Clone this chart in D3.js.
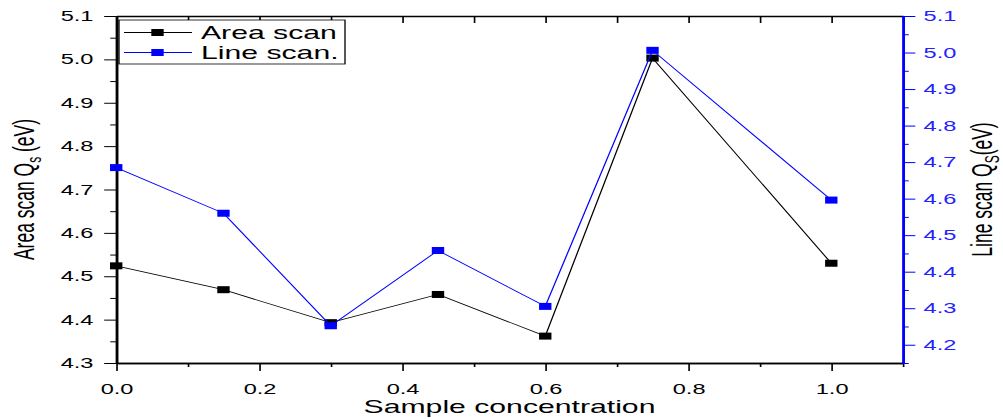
<!DOCTYPE html>
<html><head><meta charset="utf-8">
<script src="https://cdn.jsdelivr.net/npm/d3@7"></script>
<style>
html,body{margin:0;padding:0;background:#fff;}
svg{display:block;}
text{font-family:'Liberation Sans',Arial,sans-serif;}
</style></head>
<body>
<svg id="chart" width="1003" height="419" viewBox="0 0 608 419" preserveAspectRatio="none"></svg>
<script>
// ---- data ----
const concentrations = [0, 0.15, 0.3, 0.45, 0.6, 0.75, 1.0];
const areaScan = [4.524, 4.469, 4.393, 4.458, 4.362, 5.003, 4.530];
const lineScan = [4.685, 4.560, 4.252, 4.458, 4.305, 5.006, 4.596];
const seriesNames = ["Area scan", "Line scan."];
const xTicks = [0, 0.2, 0.4, 0.6, 0.8, 1.0];
const xMinorTicks = [0.1, 0.3, 0.5, 0.7, 0.9, 1.1];
const xAllTicks = [0, 0.1, 0.2, 0.3, 0.4, 0.5, 0.6, 0.7, 0.8, 0.9, 1.0, 1.1];
const leftTicks = [4.3, 4.4, 4.5, 4.6, 4.7, 4.8, 4.9, 5.0, 5.1];
const leftMinor = [4.35, 4.45, 4.55, 4.65, 4.75, 4.85, 4.95, 5.05];
const rightTicks = [4.2, 4.3, 4.4, 4.5, 4.6, 4.7, 4.8, 4.9, 5.0, 5.1];
const rightMinor = [4.15, 4.25, 4.35, 4.45, 4.55, 4.65, 4.75, 4.85, 4.95, 5.05];

const SX = 1003 / 608; // horizontal stretch of the viewBox
const L = 116.2 / SX, R = 902.8 / SX, T = 16, B = 363;
const BLUE = "#0000ff";

const svg = d3.select("#chart");
const x = d3.scaleLinear().domain([0, 1.1]).range([L, R]);
const yL = d3.scaleLinear().domain([4.3, 5.1]).range([B, T]);
const yR = d3.scaleLinear().domain([4.15, 5.1]).range([B, T]);
const fmt = d3.format(".1f");

function styleAxis(g, color, width) {
  g.select(".domain").attr("stroke", color).attr("stroke-width", width);
  g.selectAll(".tick line").attr("stroke", color).attr("stroke-width", 1);
  g.selectAll(".tick text").attr("fill", color).attr("font-size", 14.3)
    .attr("font-family", "'Liberation Sans',Arial,sans-serif");
}

// top axis (ticks inward, no labels)
const gTop = svg.append("g").attr("transform", `translate(0,${T})`)
  .call(d3.axisBottom(x).tickValues(xAllTicks).tickSize(7).tickSizeOuter(0).tickFormat(""));
styleAxis(gTop, "#000", 1.6);

// bottom axis minor
const gBm = svg.append("g").attr("transform", `translate(0,${B})`)
  .call(d3.axisBottom(x).tickValues(xMinorTicks).tickSize(4).tickSizeOuter(0).tickFormat(""));
styleAxis(gBm, "#000", 1.7);
const gB = svg.append("g").attr("transform", `translate(0,${B})`)
  .call(d3.axisBottom(x).tickValues(xTicks).tickSize(8).tickPadding(12.5).tickSizeOuter(0).tickFormat(fmt));
styleAxis(gB, "#000", 1.7);

// left axis
const gLm = svg.append("g").attr("transform", `translate(${L},0)`)
  .call(d3.axisLeft(yL).tickValues(leftMinor).tickSize(3.6).tickSizeOuter(0).tickFormat(""));
styleAxis(gLm, "#000", 1.5);
const gL = svg.append("g").attr("transform", `translate(${L},0)`)
  .call(d3.axisLeft(yL).tickValues(leftTicks).tickSize(7.3).tickPadding(6.5).tickSizeOuter(0).tickFormat(fmt));
styleAxis(gL, "#000", 1.5);

// right axis (blue)
const gRm = svg.append("g").attr("transform", `translate(${R},0)`)
  .call(d3.axisRight(yR).tickValues(rightMinor).tickSize(3.6).tickSizeOuter(0).tickFormat(""));
styleAxis(gRm, BLUE, 1.5);
const gR = svg.append("g").attr("transform", `translate(${R},0)`)
  .call(d3.axisRight(yR).tickValues(rightTicks).tickSize(7.6).tickPadding(5).tickSizeOuter(0).tickFormat(fmt));
styleAxis(gR, BLUE, 1.5);
gR.selectAll(".tick text").attr("fill", "#2222ff");

// series
const MW = 7.5, MH = 7;
function drawSeries(vals, scale, color, lw) {
  const pts = concentrations.map((c, i) => [x(c), scale(vals[i])]);
  svg.append("path").attr("d", d3.line()(pts)).attr("fill", "none")
    .attr("stroke", color).attr("stroke-width", lw);
  svg.append("g").selectAll("rect").data(pts).join("rect")
    .attr("x", d => d[0] - MW / 2).attr("y", d => d[1] - MH / 2)
    .attr("width", MW).attr("height", MH).attr("fill", color);
}
drawSeries(areaScan, yL, "#000", 0.8);
drawSeries(lineScan, yR, BLUE, 0.8);

// legend
const lg = svg.append("g");
lg.append("rect").attr("x", 119 / SX).attr("y", 20).attr("width", (345 - 119) / SX).attr("height", 44)
  .attr("fill", "#fff").attr("stroke", "#000").attr("stroke-width", 0.8);
[["#000", 32.5], [BLUE, 52.5]].forEach(([c, yy], i) => {
  lg.append("line").attr("x1", 124 / SX).attr("x2", 192 / SX).attr("y1", yy).attr("y2", yy)
    .attr("stroke", c).attr("stroke-width", 0.8);
  lg.append("rect").attr("x", 157.5 / SX - MW / 2).attr("y", yy - MH / 2).attr("width", MW).attr("height", MH).attr("fill", c);
  lg.append("text").attr("x", 201 / SX).attr("y", yy + 6.5).attr("font-size", 18.3).attr("fill", "#000")
    .text(seriesNames[i]);
});

// axis titles
svg.append("text").attr("x", (L + R) / 2).attr("y", 413.5).attr("text-anchor", "middle")
  .attr("font-size", 18.3).attr("fill", "#000").text("Sample concentration");

const tl = svg.append("text").attr("transform", `translate(${34 / SX},${(T + B) / 2}) rotate(-90)`)
  .attr("text-anchor", "middle").attr("font-size", 17.5).attr("fill", "#000");
tl.append("tspan").text("Area scan Q");
tl.append("tspan").attr("font-size", 12).attr("dy", 4).text("s");
tl.append("tspan").attr("dy", -4).text(" (eV)");

const tr = svg.append("text").attr("transform", `translate(${992 / SX},${(T + B) / 2}) rotate(-90)`)
  .attr("text-anchor", "middle").attr("font-size", 17.5).attr("fill", "#000");
tr.append("tspan").text("Line scan Q");
tr.append("tspan").attr("font-size", 12).attr("dy", 4).text("S");
tr.append("tspan").attr("dy", -4).text("(eV)");
</script>
</body></html>
